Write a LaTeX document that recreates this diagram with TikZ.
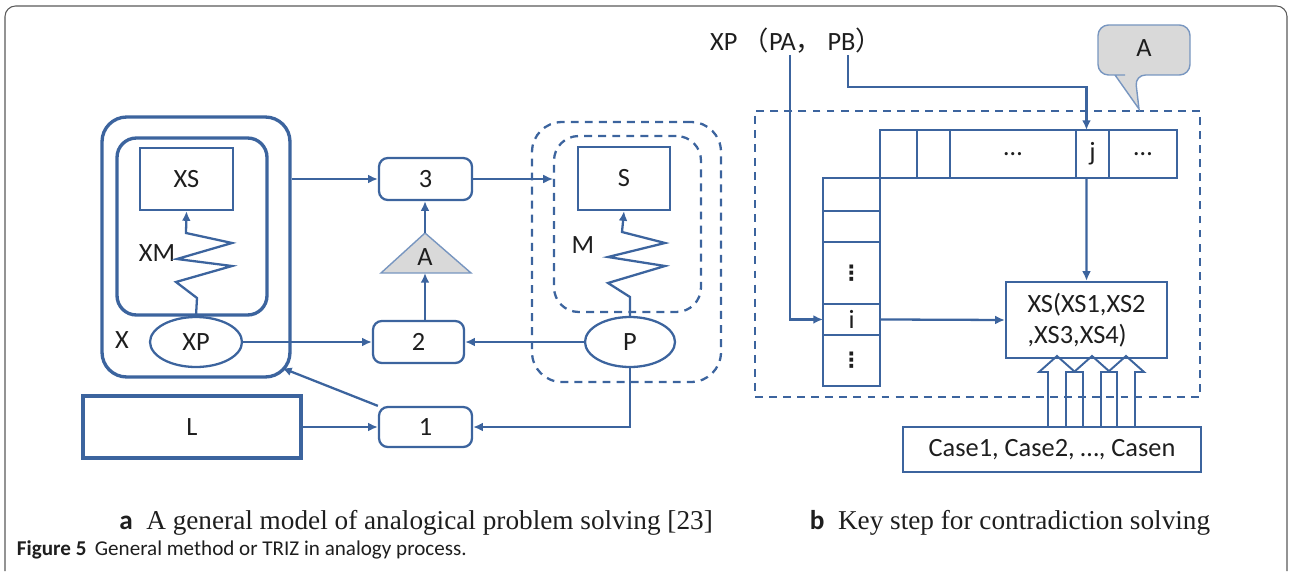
\documentclass[tikz,border=0pt]{standalone}
\usepackage{fontspec}
\setmainfont{Carlito}
\newfontfamily\capserif{Liberation Serif}
\newfontfamily\cjk{Noto Sans CJK SC}
\newfontfamily\symfont{DejaVu Sans}
\usetikzlibrary{arrows.meta,positioning,shapes.geometric}
\definecolor{lineblue}{RGB}{60,100,158}
\definecolor{boxgray}{RGB}{217,217,217}
\definecolor{txtgray}{RGB}{30,30,30}
\definecolor{calloutblue}{RGB}{120,150,192}

\begin{document}
\begin{tikzpicture}[x=0.02cm,y=-0.02cm,>={Latex[length=5.5pt,width=5pt]},color=lineblue,line width=1.3pt,
  every node/.style={font=\fontsize{15}{18}\selectfont,text=txtgray},
  rbox/.style={draw,line width=1.3pt,rounded corners=5pt,minimum width=1.86cm,minimum height=0.84cm,inner sep=0pt},
  sbox/.style={draw,line width=1.3pt,minimum width=1.86cm,minimum height=1.24cm},
  group/.style={draw,line width=1.9pt,inner sep=0pt},
  dgroup/.style={draw,line width=1.3pt,dash pattern=on 4.5pt off 3.5pt,inner sep=0pt},
  oval/.style={draw,ellipse,line width=1.3pt,fill=white,minimum width=1.84cm,minimum height=1cm,inner sep=0pt},
  cell/.style={draw,line width=1.1pt,inner sep=0pt,outer sep=0pt,minimum width=1.14cm},
  rowcell/.style={cell,minimum height=0.96cm},
  hollow/.style={line width=1.1pt},
  callout/.style={draw=calloutblue,fill=boxgray,line width=0.8pt},
  caption/.style={font=\fontsize{15.5}{18}\selectfont,anchor=base}]
  \useasboundingbox (0,0) rectangle (1290,571);
  \draw[gray!70!black,line width=0.6pt,rounded corners=6pt] (5,571) -- (5,6) -- (1287,6) -- (1287,571);

  \node[group,rounded corners=14pt,minimum width=3.76cm,minimum height=5.2cm] (X) at (196,247) {};
  \node[group,rounded corners=11pt,minimum width=3cm,minimum height=3.54cm] (Xin) at (192,226.5) {};
  \node[sbox] (XS) at (186.5,179) {XS};
  \node[oval] (XP) at (196,342) {XP};
  \node (Xlab) at (122,340) {X};
  \node (XMlab) at (157,253) {XM};

  \node[rbox] (B3) at (425.5,179) {3};
  \node[rbox,minimum width=1.82cm] (B2) at (418.5,342) {2};
  \node[rbox,minimum height=0.8cm] (B1) at (425.5,427) {1};
  \node[group,minimum width=4.36cm,minimum height=1.24cm] (L) at (192,427) {L};
  \coordinate (Atop) at (425,233);
  \coordinate (Abase) at (425,273);
  \filldraw[fill=boxgray,draw=calloutblue,line width=0.8pt] (Atop) -- (471,273) -- (381,273) -- cycle;
  \node (Atri) at (425,257) {A};

  \node[dgroup,rounded corners=17pt,minimum width=3.78cm,minimum height=5.2cm] (Mout) at (626.5,252) {};
  \node[dgroup,rounded corners=14pt,minimum width=2.94cm,minimum height=3.52cm] (Min) at (627.5,224) {};
  \node[sbox,minimum width=1.84cm,minimum height=1.26cm] (S) at (624,178.5) {S};
  \node[oval,minimum width=1.8cm] (P) at (630,342) {P};
  \node (Mlab) at (583,245) {M};
  \coordinate (Xcorner) at (282,368);

  \draw[->] (X.east |- B3.west) -- (B3.west);
  \draw[->,line width=0.7pt] (B3.east) -- (Min.west |- B3.east);
  \draw[->] (Atop) -- (Atop |- B3.south);
  \draw[->] (Abase |- B2.north) -- (Abase);
  \draw[->] (XP.east) -- (B2.west);
  \draw[->] (P.west) -- (B2.east);
  \draw[->] (P.south) |- (B1.east);
  \draw[->] (L.east) -- (B1.west);
  \draw[->] (B1.north west) -- (Xcorner);
  \draw[->] (XP.north) -- (197,298) -- (176,282) -- (232,266) -- (177,259) -- (232,243) -- (186,233) -- (XS.south);
  \draw[->] (P.north) -- (630,297) -- (608,283) -- (665,266) -- (608,257) -- (665,243) -- (622,232) -- (S.south);

  \node (xpt) at (796,41) {XP\hspace{0.2em}{\cjk （}PA{\cjk ，}\hspace{0.2em}PB{\cjk ）}};
  \coordinate (pa) at (790,55);
  \coordinate (pb) at (848,55);
  \node[dgroup,minimum width=8.9cm,minimum height=5.72cm] (key) at (977.5,254) {};
  \filldraw[callout,rounded corners=6pt] (1125,75) -- (1098,75) -- (1098,25) -- (1190,25) -- (1190,75) -- (1135,75) [sharp corners] -- (1139,109) -- (1115,75) -- cycle;
  \node (calA) at (1144,48) {A};

  \node[rowcell,minimum width=0.74cm] (c1) at (898.5,154) {};
  \node[rowcell,minimum width=0.66cm,right=0pt of c1] (c2) {};
  \node[rowcell,minimum width=2.52cm,right=0pt of c2] (c3) {…};
  \node[rowcell,minimum width=0.66cm,right=0pt of c3] (c4) {j};
  \node[rowcell,minimum width=1.36cm,right=0pt of c4] (c5) {…};
  \node[cell,minimum height=0.66cm,below left=0pt of c1.south west] (r1) {};
  \node[cell,minimum height=0.62cm,below=0pt of r1] (r2) {};
  \node[cell,minimum height=1.24cm,below=0pt of r2,font=\fontsize{12}{12}\symfont\bfseries] (r3) {⋮};
  \node[cell,minimum height=0.62cm,below=0pt of r3] (r4) {i};
  \node[cell,minimum height=1.02cm,below=0pt of r4,font=\fontsize{12}{12}\symfont\bfseries] (r5) {⋮};

  \node[draw,line width=1.3pt,minimum width=3.22cm,minimum height=1.52cm,align=left,font=\fontsize{15}{17.6}\selectfont] (XSb) at (1086.5,320) {XS(XS1,XS2\\,XS3,XS4)};
  \node[draw,line width=1.3pt,minimum width=5.96cm,minimum height=0.9cm] (case) at (1052,449.5) {Case1, Case2, …, Casen};

  \draw[->] (pb) -- ++(0,32) -| ([xshift=-0.12cm]c4.north);
  \draw[->] ([xshift=-0.12cm]c4.south) -- (XSb.north);
  \draw[->] (pa) |- (r4.west);
  \draw[->] (r4.east) -- (XSb.west);
  \foreach \ax in {1057,1092,1126}
    \draw[hollow] (\ax-9,427) -- (\ax-9,372) -- (\ax-18,372) -- (\ax,356) -- (\ax+18,372) -- (\ax+9,372) -- (\ax+9,427);

  \node[caption] (capa) at (416,529) {{\bfseries a}\hspace{0.5em}{\capserif A general model of analogical problem solving [23]}};
  \node[caption] (capb) at (1010,529) {{\bfseries b}\hspace{0.5em}{\capserif Key step for contradiction solving}};
  \node[anchor=base west,font=\fontsize{12}{14}\selectfont] (fig) at (10,555) {\bfseries Figure 5\hspace{0.4em}\mdseries General method or TRIZ in analogy process.};
\end{tikzpicture}
\end{document}
